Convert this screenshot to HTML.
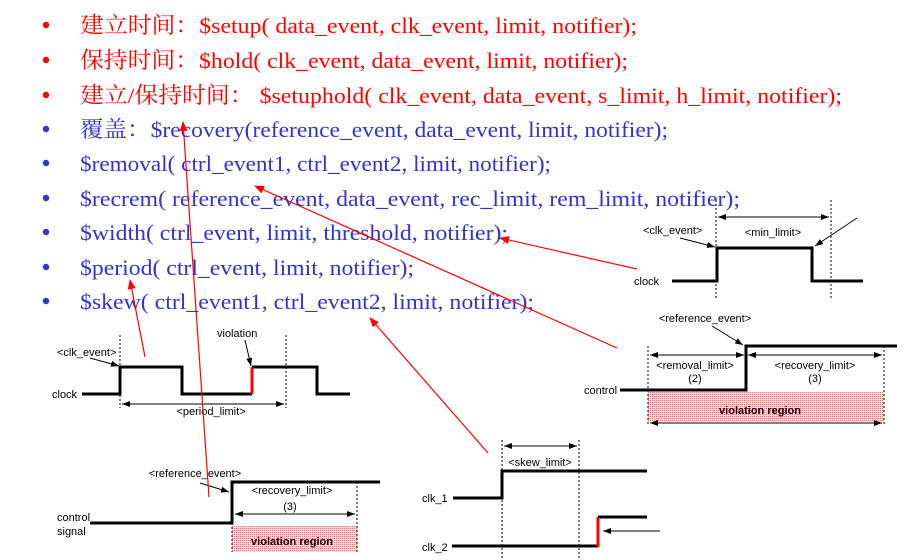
<!DOCTYPE html>
<html><head><meta charset="utf-8"><style>
html,body{margin:0;padding:0;background:#fff;}
svg{display:block;}
.t{font-family:"Liberation Serif","Noto Serif CJK SC","Noto Sans CJK SC",serif;font-size:22.5px;}
.r{fill:#ff0000}.b{fill:#3333cc}
.s{font-family:"Liberation Sans",sans-serif;font-size:11px;fill:#000;}
.w{fill:none;stroke:#000;stroke-width:3;}
.d{stroke:#000;stroke-width:1;stroke-dasharray:2,2;}
.a{stroke:#000;stroke-width:1;}
.ra{stroke:#ff0000;stroke-width:1.2;}
</style></head><body>
<svg width="912" height="560" viewBox="0 0 912 560" xmlns="http://www.w3.org/2000/svg">
<defs>
<marker id="ah" markerWidth="8" markerHeight="6" refX="8" refY="3" orient="auto" markerUnits="userSpaceOnUse"><path d="M0,0L8,3L0,6z" fill="#000"/></marker>
<marker id="rh" markerWidth="10" markerHeight="8" refX="9" refY="4" orient="auto" markerUnits="userSpaceOnUse"><path d="M0,0L10,4L0,8z" fill="#f00"/></marker>
<pattern id="pk" width="2" height="2" patternUnits="userSpaceOnUse"><rect width="2" height="2" fill="#fbdada"/><rect width="1" height="1" fill="#f07070"/></pattern>
</defs>
<g>
<circle cx="46" cy="25" r="3.2" fill="#f00"/><circle cx="46" cy="60" r="3.2" fill="#f00"/><circle cx="46" cy="95" r="3.2" fill="#f00"/>
<circle cx="46" cy="129" r="3.2" fill="#33c"/><circle cx="46" cy="163" r="3.2" fill="#33c"/><circle cx="46" cy="198" r="3.2" fill="#33c"/><circle cx="46" cy="232" r="3.2" fill="#33c"/><circle cx="46" cy="267" r="3.2" fill="#33c"/><circle cx="46" cy="301" r="3.2" fill="#33c"/>
</g>
<g lengthAdjust="spacingAndGlyphs">
<text class="t r" x="80" y="33" textLength="557" lengthAdjust="spacingAndGlyphs">建立时间：$setup( data_event, clk_event, limit, notifier);</text>
<text class="t r" x="80" y="68" textLength="548" lengthAdjust="spacingAndGlyphs">保持时间：$hold( clk_event, data_event, limit, notifier);</text>
<text class="t r" x="80" y="103" textLength="762" lengthAdjust="spacingAndGlyphs">建立/保持时间： $setuphold( clk_event, data_event, s_limit, h_limit, notifier);</text>
<text class="t b" x="80" y="137" textLength="588" lengthAdjust="spacingAndGlyphs">覆盖：$recovery(reference_event, data_event, limit, notifier);</text>
<text class="t b" x="80" y="171" textLength="471" lengthAdjust="spacingAndGlyphs">$removal( ctrl_event1, ctrl_event2, limit, notifier);</text>
<text class="t b" x="80" y="206" textLength="660" lengthAdjust="spacingAndGlyphs">$recrem( reference_event, data_event, rec_limit, rem_limit, notifier);</text>
<text class="t b" x="80" y="240" textLength="428" lengthAdjust="spacingAndGlyphs">$width( ctrl_event, limit, threshold, notifier);</text>
<text class="t b" x="80" y="275" textLength="334" lengthAdjust="spacingAndGlyphs">$period( ctrl_event, limit, notifier);</text>
<text class="t b" x="80" y="309" textLength="454" lengthAdjust="spacingAndGlyphs">$skew( ctrl_event1, ctrl_event2, limit, notifier);</text>
</g>

<!-- period diagram -->
<line class="d" x1="120" y1="335" x2="120" y2="408"/><line class="d" x1="286" y1="335" x2="286" y2="408"/>
<polyline class="w" points="82,394 120,394 120,367 182,367 182,394 252,394"/>
<polyline class="w" points="252,367 317,367 317,394 350,394"/>
<line x1="252" y1="394" x2="252" y2="367" stroke="#f00" stroke-width="3"/>
<line class="a" x1="122" y1="404" x2="284" y2="404" marker-end="url(#ah)"/><line class="a" x1="284" y1="404" x2="122" y2="404" marker-end="url(#ah)"/>
<text class="s" x="211" y="415" text-anchor="middle">&lt;period_limit&gt;</text>
<text class="s" x="57" y="356">&lt;clk_event&gt;</text>
<line class="a" x1="90" y1="358" x2="119" y2="366" marker-end="url(#ah)"/>
<text class="s" x="217" y="337">violation</text>
<line class="a" x1="245" y1="340" x2="251" y2="366" marker-end="url(#ah)"/>
<text class="s" x="52" y="398">clock</text>

<!-- recovery diagram -->
<rect x="232" y="526" width="125" height="26" fill="url(#pk)"/>
<line class="d" x1="357" y1="482" x2="357" y2="552"/><line class="d" x1="232" y1="523" x2="232" y2="552"/>
<polyline class="w" points="90,523 232,523 232,482 380,482"/>
<line class="a" x1="235" y1="514" x2="355" y2="514" marker-end="url(#ah)"/><line class="a" x1="355" y1="514" x2="235" y2="514" marker-end="url(#ah)"/>
<text class="s" x="292" y="494" text-anchor="middle">&lt;recovery_limit&gt;</text>
<text class="s" x="290" y="510" text-anchor="middle">(3)</text>
<text class="s" x="292" y="545" text-anchor="middle" font-weight="bold">violation region</text>
<text class="s" x="195" y="477" text-anchor="middle">&lt;reference_event&gt;</text>
<line class="a" x1="200" y1="483" x2="229" y2="492" marker-end="url(#ah)"/>
<text class="s" x="57" y="521">control</text><text class="s" x="57" y="535">signal</text>

<!-- width diagram -->
<line class="d" x1="716" y1="200" x2="716" y2="298"/><line class="d" x1="831" y1="200" x2="831" y2="298"/>
<polyline class="w" points="672,281 717,281 717,248 812,248 812,281 863,281"/>
<line class="a" x1="718" y1="217" x2="829" y2="217" marker-end="url(#ah)"/><line class="a" x1="829" y1="217" x2="718" y2="217" marker-end="url(#ah)"/>
<text class="s" x="773" y="236" text-anchor="middle">&lt;min_limit&gt;</text>
<text class="s" x="643" y="234">&lt;clk_event&gt;</text>
<line class="a" x1="680" y1="238" x2="715" y2="247" marker-end="url(#ah)"/>
<line class="a" x1="857" y1="218" x2="815" y2="246" marker-end="url(#ah)"/>
<text class="s" x="634" y="285" font-size="12">clock</text>

<!-- recrem diagram -->
<rect x="648" y="392" width="236" height="30" fill="url(#pk)"/>
<line class="d" x1="648" y1="346" x2="648" y2="425"/><line class="d" x1="884" y1="346" x2="884" y2="425"/>
<polyline class="w" points="620,390 746,390 746,346 897,346"/>
<line class="a" x1="650" y1="355" x2="744" y2="355" marker-end="url(#ah)"/><line class="a" x1="744" y1="355" x2="650" y2="355" marker-end="url(#ah)"/>
<line class="a" x1="748" y1="355" x2="882" y2="355" marker-end="url(#ah)"/><line class="a" x1="882" y1="355" x2="748" y2="355" marker-end="url(#ah)"/>
<line class="a" x1="650" y1="423" x2="882" y2="423" marker-end="url(#ah)"/><line class="a" x1="882" y1="423" x2="650" y2="423" marker-end="url(#ah)"/>
<text class="s" x="695" y="369" text-anchor="middle">&lt;removal_limit&gt;</text><text class="s" x="695" y="382" text-anchor="middle">(2)</text>
<text class="s" x="815" y="369" text-anchor="middle">&lt;recovery_limit&gt;</text><text class="s" x="815" y="382" text-anchor="middle">(3)</text>
<text class="s" x="760" y="414" text-anchor="middle" font-weight="bold">violation region</text>
<text class="s" x="705" y="322" text-anchor="middle">&lt;reference_event&gt;</text>
<line class="a" x1="712" y1="326" x2="743" y2="345" marker-end="url(#ah)"/>
<text class="s" x="584" y="394">control</text>

<!-- skew diagram -->
<line class="d" x1="502" y1="440" x2="502" y2="560"/><line class="d" x1="579" y1="440" x2="579" y2="560"/>
<polyline class="w" points="453,498 502,498 502,471 647,471"/>
<polyline class="w" points="452,546 598,546"/>
<polyline class="w" points="598,517 647,517"/>
<line x1="598" y1="547" x2="598" y2="517" stroke="#f00" stroke-width="3"/>
<line class="a" x1="504" y1="446" x2="577" y2="446" marker-end="url(#ah)"/><line class="a" x1="577" y1="446" x2="504" y2="446" marker-end="url(#ah)"/>
<text class="s" x="540" y="466" text-anchor="middle">&lt;skew_limit&gt;</text>
<text class="s" x="422" y="502">clk_1</text><text class="s" x="422" y="551">clk_2</text>
<line class="a" x1="660" y1="531" x2="603" y2="531" marker-end="url(#ah)"/>

<!-- red annotation arrows -->
<line class="ra" x1="145" y1="357" x2="130" y2="280" marker-end="url(#rh)"/>
<line class="ra" x1="209" y1="497" x2="183" y2="122" marker-end="url(#rh)"/>
<line class="ra" x1="617" y1="348" x2="255" y2="186" marker-end="url(#rh)"/>
<line class="ra" x1="637" y1="269" x2="500" y2="238" marker-end="url(#rh)"/>
<line class="ra" x1="488" y1="453" x2="370" y2="318" marker-end="url(#rh)"/>
</svg>
</body></html>
